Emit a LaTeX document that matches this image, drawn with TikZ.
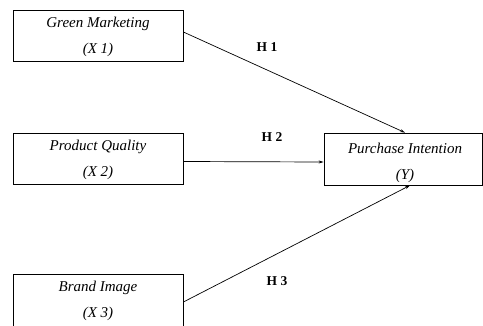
\documentclass[tikz,border=0pt]{standalone}
\usepackage{fontspec}
\setmainfont{Liberation Serif}
\usetikzlibrary{calc,arrows.meta}
\begin{document}
\begin{tikzpicture}[x=1pt,y=-1pt,
  varbox/.style={draw, line width=0.8pt, minimum width=170pt, minimum height=51pt, inner sep=0pt},
  vartext/.style={font=\fontsize{15}{26}\selectfont\itshape, align=center},
  hyp/.style={font=\fontsize{13.5}{14}\selectfont\bfseries},
  path/.style={line width=0.7pt, -{Stealth[length=5pt,width=3pt]}}]
\useasboundingbox (0,0) rectangle (483,325);
\clip (0,0) rectangle (483,325);
\node[varbox] (x1) at (98,36) {};
\node[vartext] (t1) at (98,37) {Green Marketing\\(X 1)};
\node[varbox] (x2) at (98,158.5) {};
\node[vartext] (t2) at (98,159.5) {Product Quality\\(X 2)};
\node[varbox, minimum height=70pt] (x3) at (98,309) {};
\node[vartext] (t3) at (98,300.5) {Brand Image\\(X 3)};
\node[varbox, minimum width=158pt, minimum height=52pt] (y) at (403,159) {};
\node[vartext] (ty) at (405,163) {Purchase Intention\\(Y)};
\draw[path] ($(x1.east)+(0,-4)$) -- ($(y.north)+(2,0)$);
\draw[path] ($(x2.east)+(0,3)$) -- ($(y.west)+(0,3)$);
\draw[path] (x3.east |- 0,302) -- ($(y.south)+(7,0)$);
\node[hyp] (h1) at (267,47) {H 1};
\node[hyp] (h2) at (272,137) {H 2};
\node[hyp] (h3) at (277,281) {H 3};
\end{tikzpicture}
\end{document}
